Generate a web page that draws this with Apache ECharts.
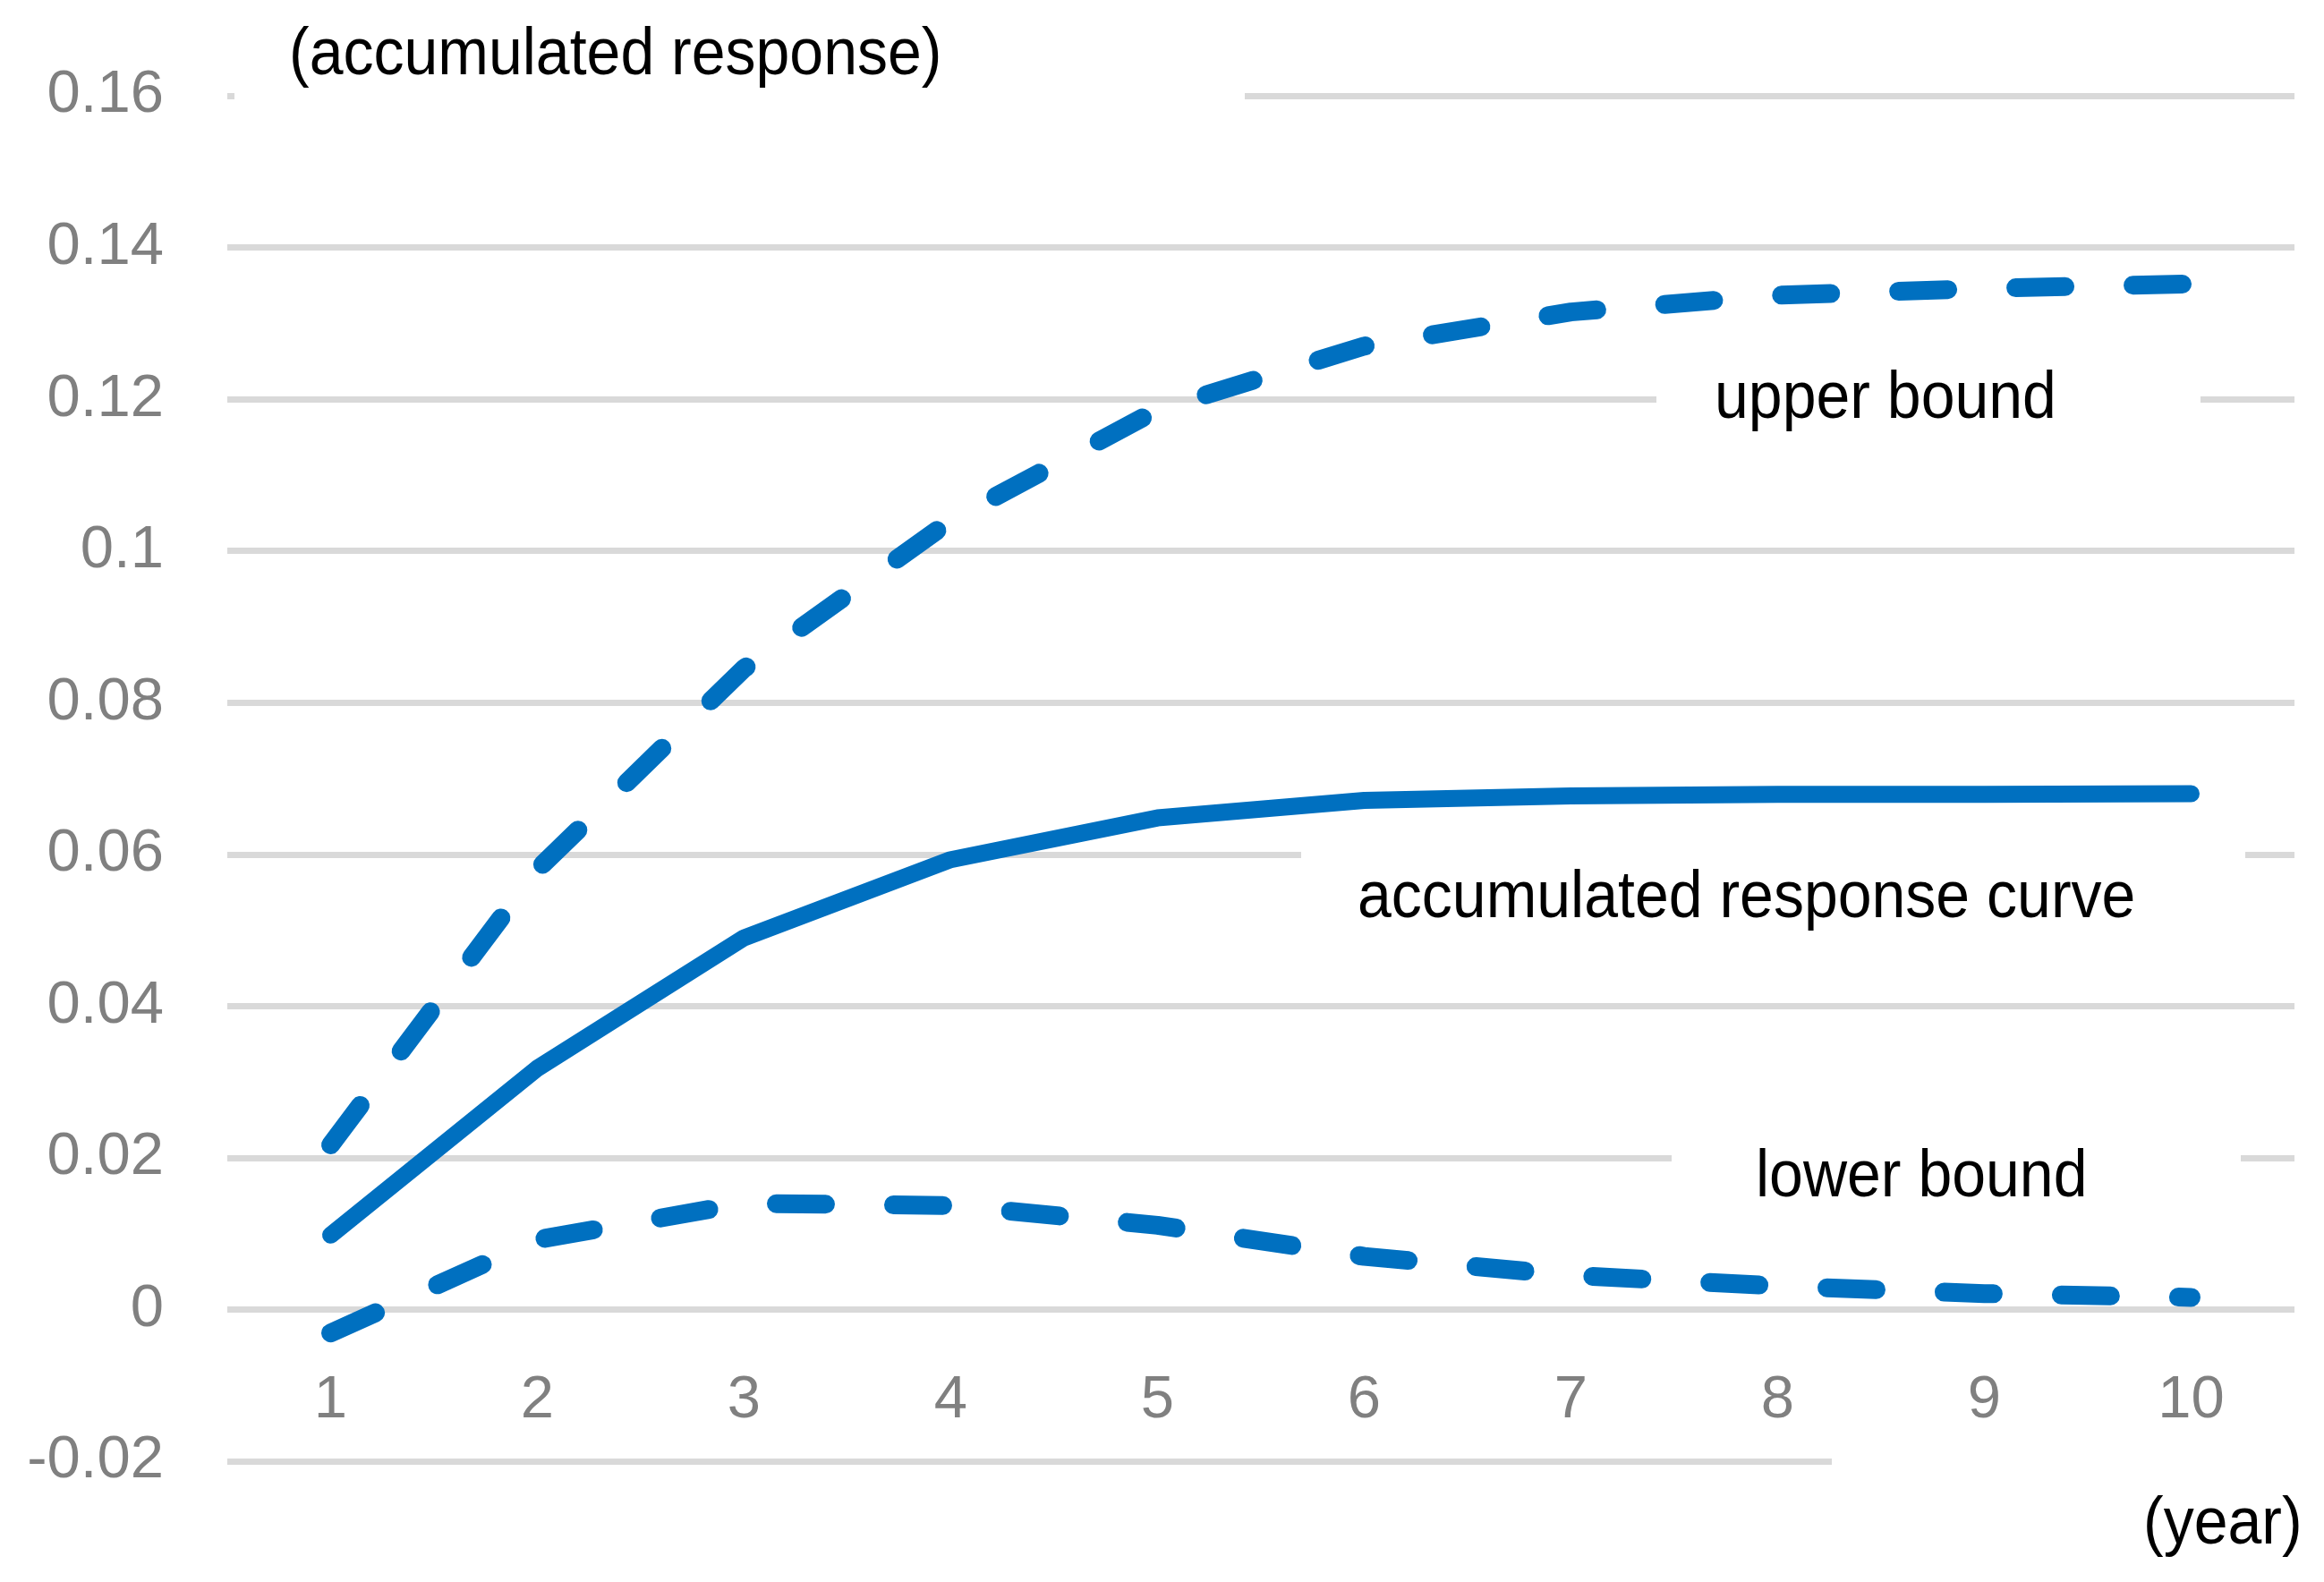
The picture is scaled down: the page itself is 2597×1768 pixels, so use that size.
<!DOCTYPE html>
<html>
<head>
<meta charset="utf-8">
<script src="https://cdn.jsdelivr.net/npm/echarts@6/dist/echarts.min.js"></script>
<style>
html,body{margin:0;padding:0;background:#fff;}
#c{width:2597px;height:1768px;}
</style>
</head>
<body>
<div id="c"></div>
<script>
var years = ['1','2','3','4','5','6','7','8','9','10'];
var responseCurve = [0.0098, 0.0318, 0.0490, 0.0593, 0.0648, 0.0671, 0.0677, 0.0679, 0.0679, 0.0680];
var upperBound = [0.0217, 0.0580, 0.0845, 0.1040, 0.1186, 0.1270, 0.1315, 0.1337, 0.1346, 0.1352];
var lowerBound = [-0.0031, 0.0092, 0.0140, 0.0137, 0.0111, 0.0070, 0.0045, 0.0031, 0.0021, 0.0016];
var yMin = -0.02, yMax = 0.16, yStep = 0.02;

var FONT = 'Liberation Sans, Arial, sans-serif';
var BLUE = '#0070C0';

var GRID_TOP = 107, GRID_BOTTOM = 135, H = 1768;
var plotH = H - GRID_TOP - GRID_BOTTOM;
var zeroOffset = -Math.round((0 - yMin) / (yMax - yMin) * plotH);

var chart = echarts.init(document.getElementById('c'));

function label(text, x, y) {
  return {type:'text', z:10, x:x, y:y, scaleY:1.08,
    style:{text:text, fill:'#000', font:'68px ' + FONT, textAlign:'left', textVerticalAlign:'middle'}};
}
function cover(x1, x2, y) {
  return {type:'rect', z:1, shape:{x:x1, y:y-8, width:x2-x1, height:16}, style:{fill:'#fff'}};
}

chart.setOption({
  animation:false,
  backgroundColor:'#fff',
  grid:{left:254, right:33, top:GRID_TOP, bottom:GRID_BOTTOM, containLabel:false},
  xAxis:{
    type:'category', data:years, boundaryGap:true, position:'bottom', offset:zeroOffset,
    axisLine:{show:false, onZero:false},
    axisTick:{show:false},
    axisLabel:{color:'#808080', fontSize:67, fontFamily:FONT, margin:69},
    splitLine:{show:false}
  },
  yAxis:{
    type:'value', min:yMin, max:yMax, interval:yStep,
    axisLine:{show:false}, axisTick:{show:false},
    axisLabel:{color:'#808080', fontSize:67, fontFamily:FONT, margin:71},
    splitLine:{show:true, lineStyle:{color:'#D9D9D9', width:7}}
  },
  series:[
    {name:'upper bound', type:'line', data:upperBound, symbol:'none', z:3,
     lineStyle:{color:BLUE, width:21, type:[55,76], cap:'round', join:'round'}},
    {name:'accumulated response curve', type:'line', data:responseCurve, symbol:'none', z:3,
     lineStyle:{color:BLUE, width:19, type:'solid', cap:'round', join:'round'}},
    {name:'lower bound', type:'line', data:lowerBound, symbol:'none', z:3,
     lineStyle:{color:BLUE, width:21, type:[55,76], cap:'round', join:'round'}}
  ],
  graphic:[
    cover(262, 1391, 107),
    cover(1851, 2459, 447),
    cover(1454, 2509, 955),
    cover(1868, 2504, 1294),
    cover(2047, 2570, 1633),
    label('(accumulated response)', 323, 63),
    label('upper bound', 1916, 447),
    label('accumulated response curve', 1517, 1005),
    label('lower bound', 1962, 1317),
    label('(year)', 2395, 1705)
  ]
});
</script>
</body>
</html>
